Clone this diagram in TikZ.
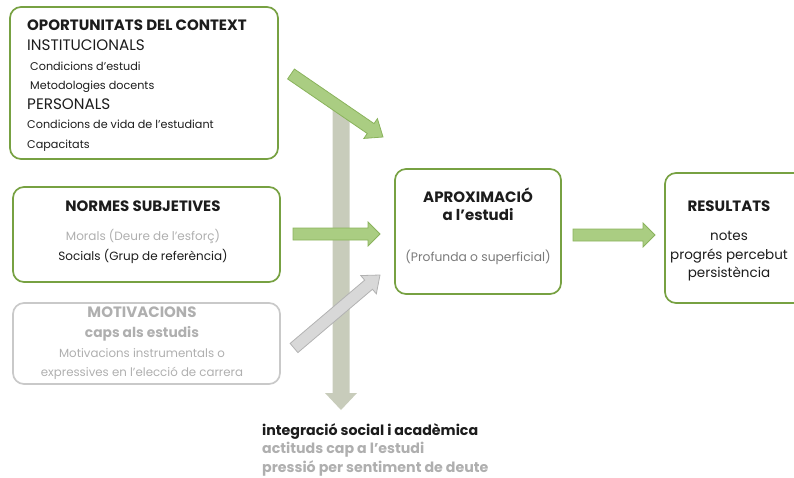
\documentclass[tikz,border=0pt]{standalone}
\usepackage{fontspec}
\setmainfont{Poppins}
\usetikzlibrary{calc}

\definecolor{boxgreen}{HTML}{77A142}
\definecolor{boxgrey}{HTML}{C9C9C9}
\definecolor{arrfill}{HTML}{AACD82}
\definecolor{arrline}{HTML}{8AB35C}
\definecolor{shaftgrey}{HTML}{C8CCBB}
\definecolor{greyfill}{HTML}{D8D8D8}
\definecolor{greyline}{HTML}{B2B2B2}
\definecolor{txtgrey}{HTML}{AFAFAF}
\definecolor{txtdark}{HTML}{1C1C1C}

% block arrow: style, from, to, half shaft, half head, head length
\newcommand\blockarrow[6]{%
  \coordinate (ba-base) at ($(#3)!#6!(#2)$);
  \filldraw[#1] ($(#2)!#4!90:(#3)$) -- ($(ba-base)!#4!90:(#3)$) -- ($(ba-base)!#5!90:(#3)$) -- (#3)
    -- ($(ba-base)!#5!-90:(#3)$) -- ($(ba-base)!#4!-90:(#3)$) -- ($(#2)!#4!-90:(#3)$) -- cycle;}

\newcommand\hd{\fontsize{15}{19.6}\selectfont\bfseries}
\newcommand\sub{\fontsize{15.2}{19.6}\selectfont}

\begin{document}
\begin{tikzpicture}[x=1pt,y=-1pt]
  \tikzset{
    box/.style={draw=boxgreen, line width=1.7pt, rounded corners=11pt, inner sep=0pt},
    greybox/.style={box, draw=boxgrey},
    txt/.style={inner sep=0pt, text=txtdark, font=\fontsize{11.2}{19.6}\selectfont},
    greenarr/.style={fill=arrfill, draw=arrline, line width=.8pt},
    greyarr/.style={fill=greyfill, draw=greyline, line width=.8pt},
  }
  \useasboundingbox (0,0) rectangle (794,477);
  % Caixes
  \node[box, minimum width=268pt, minimum height=152pt] (oport) at (144,83) {};
  \node[box, minimum width=267pt, minimum height=95pt] (normes) at (146.5,234.5) {};
  \node[greybox, minimum width=267pt, minimum height=81pt] (motiv) at (146.5,343.5) {};
  \node[box, minimum width=166pt, minimum height=125pt] (aprox) at (478,231.5) {};
  \node[box, minimum width=142pt, minimum height=130pt] (result) at (736,238) {};
  % Textos
  \node[txt, anchor=north west, align=left] (oport-t) at (27,20) {%
    {\hd OPORTUNITATS DEL CONTEXT}\\
    {\sub INSTITUCIONALS}\\
    \ Condicions d'estudi\\
    \ Metodologies docents\\
    {\sub PERSONALS}\\
    Condicions de vida de l'estudiant\\
    Capacitats};
  \node[txt, anchor=north, align=center, font=\fontsize{12}{19.6}\selectfont] (normes-t) at (143,201) {%
    {\hd NORMES SUBJETIVES}\\[9pt]
    {\color{txtgrey}Morals (Deure de l’esforç)}\\
    Socials (Grup de referència)};
  \node[txt, anchor=north, align=center, text=txtgrey, font=\fontsize{11.8}{19.6}\selectfont] (motiv-t) at (142,307) {%
    {\hd MOTIVACIONS}\\
    {\hd\fontsize{13.8}{19.6}\selectfont caps als estudis}\\
    Motivacions instrumentals o\\
    expressives en l’elecció de carrera};
  \node[txt, anchor=north, align=center, font=\fontsize{12.3}{19.6}\selectfont] (aprox-t) at (478,188) {%
    {\hd APROXIMACIÓ}\\[-2pt]
    {\hd a l'estudi}\\[21pt]
    {\color{txtgrey!70!black}(Profunda o superficial)}};
  \node[txt, anchor=north, align=center, font=\fontsize{13.5}{19.6}\selectfont] (result-t) at (729,201) {%
    {\hd RESULTATS}\\[9pt]
    notes\\[-1pt]
    progrés percebut\\[-1pt]
    persistència};
  \node[txt, anchor=north west, align=left, font=\bfseries\fontsize{14.2}{18.8}\selectfont] (integ-t) at (262,423) {%
    integració social i acadèmica\\
    {\color{txtgrey}actituds cap a l'estudi}\\
    {\color{txtgrey}pressió per sentiment de deute}};
  % Fletxes
  \coordinate (v1) at (341,110);
  \coordinate (v2) at (341,410);
  \blockarrow{fill=shaftgrey, draw=none}{v1}{v2}{8.5pt}{16pt}{17pt}
  \coordinate (a1) at (291,74);
  \coordinate (a2) at (383,137);
  \blockarrow{greenarr}{a1}{a2}{6pt}{12pt}{15pt}
  \coordinate (b1) at (293,234);
  \coordinate (b2) at (380,234);
  \blockarrow{greenarr}{b1}{b2}{6pt}{12pt}{12pt}
  \coordinate (c1) at (294,348);
  \coordinate (c2) at (380,275);
  \blockarrow{greyarr}{c1}{c2}{6pt}{12pt}{15pt}
  \coordinate (d1) at (573,235);
  \coordinate (d2) at (655,235);
  \blockarrow{greenarr}{d1}{d2}{6pt}{12pt}{12pt}
\end{tikzpicture}
\end{document}
